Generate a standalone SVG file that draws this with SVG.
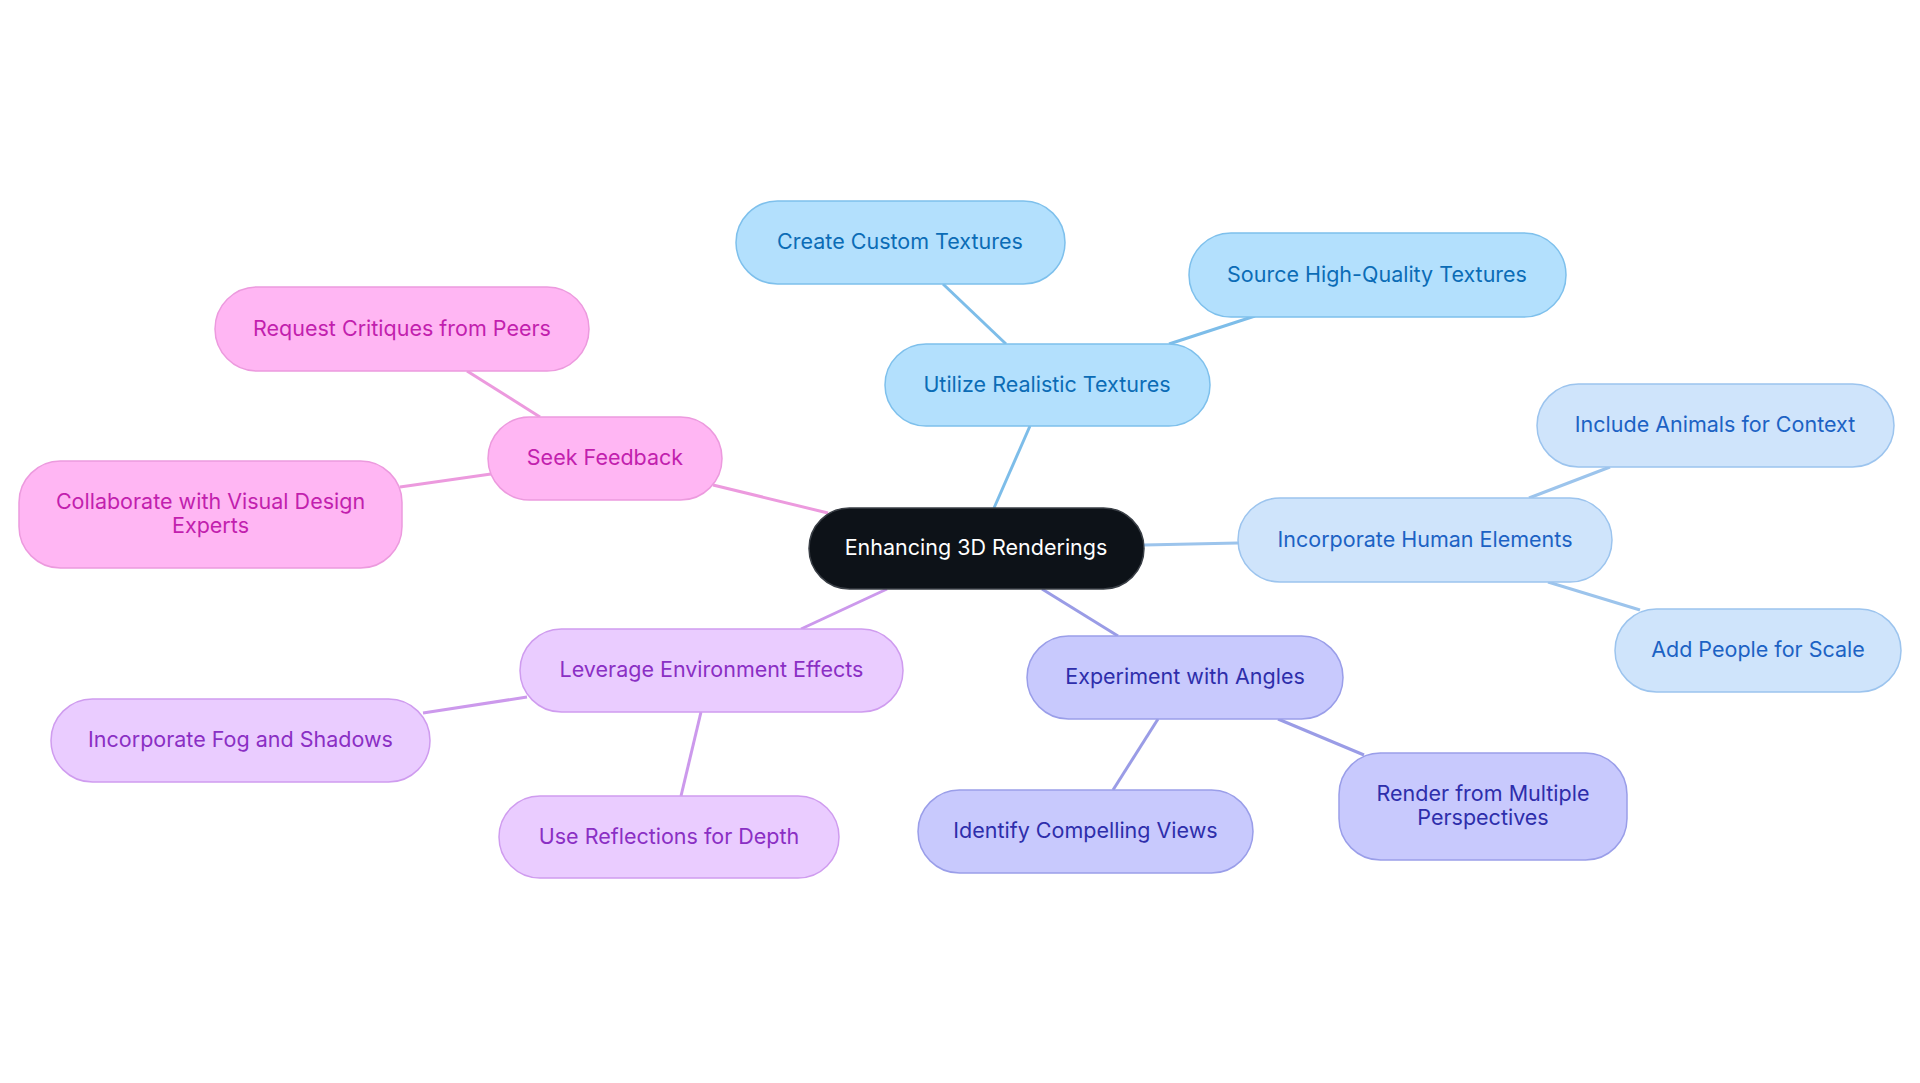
<svg xmlns="http://www.w3.org/2000/svg" width="1920" height="1083" viewBox="0 0 1920 1083">
<style>
text{font-family:Inter,"Noto Sans","Liberation Sans",sans-serif;font-size:21.5px;text-anchor:middle;dominant-baseline:central}
.c rect{fill:#0d1218;stroke:#3a3f46;stroke-width:1.5}
.c text{fill:#ffffff}
.b rect{fill:#b3e0fd;stroke:#7ec0ec;stroke-width:1.5}
.b text{fill:#0b6cb6}
.h rect{fill:#cfe4fb;stroke:#9cc4ee;stroke-width:1.5}
.h text{fill:#1c62c4}
.a rect{fill:#c8c9fd;stroke:#9a9ee9;stroke-width:1.5}
.a text{fill:#2e2eab}
.e rect{fill:#eaccff;stroke:#cf9cef;stroke-width:1.5}
.e text{fill:#8a2fc4}
.p rect{fill:#ffb6f3;stroke:#ec9ade;stroke-width:1.5}
.p text{fill:#c21fae}
#connectors line{stroke-width:3;fill:none}
</style>
<rect width="1920" height="1083" fill="#ffffff"/>
<g id="connectors">
<line x1="994" y1="508" x2="1030" y2="426" stroke="#7dbde9"/>
<line x1="1006" y1="344" x2="943" y2="284" stroke="#7dbde9"/>
<line x1="1169" y1="344" x2="1255" y2="316" stroke="#7dbde9"/>
<line x1="1144" y1="545" x2="1238" y2="543" stroke="#9cc4ec"/>
<line x1="1529" y1="498" x2="1610" y2="467" stroke="#9cc4ec"/>
<line x1="1548" y1="582" x2="1640" y2="610" stroke="#9cc4ec"/>
<line x1="1042" y1="589" x2="1118" y2="636" stroke="#9a9ce6"/>
<line x1="1158" y1="719" x2="1113" y2="790" stroke="#9a9ce6"/>
<line x1="1278" y1="719" x2="1364" y2="755" stroke="#9a9ce6"/>
<line x1="887" y1="589" x2="801" y2="629" stroke="#cc99ec"/>
<line x1="527" y1="697" x2="423" y2="713" stroke="#cc99ec"/>
<line x1="701" y1="712" x2="681" y2="796" stroke="#cc99ec"/>
<line x1="828" y1="513" x2="713" y2="485" stroke="#ec9ade"/>
<line x1="540" y1="417" x2="467" y2="371" stroke="#ec9ade"/>
<line x1="491" y1="474" x2="400" y2="487" stroke="#ec9ade"/>
</g>
<g id="n-center" class="c"><rect x="809" y="508" width="335" height="81" rx="40.5"/><text x="976" y="547">Enhancing 3D Renderings</text></g>
<g id="n-utilize" class="b"><rect x="885" y="344" width="325" height="82" rx="41"/><text x="1047" y="383.5">Utilize Realistic Textures</text></g>
<g id="n-create" class="b"><rect x="736" y="201" width="329" height="83" rx="41.5"/><text x="900" y="241">Create Custom Textures</text></g>
<g id="n-source" class="b"><rect x="1189" y="233" width="377" height="84" rx="42"/><text x="1377" y="273.5">Source High-Quality Textures</text></g>
<g id="n-human" class="h"><rect x="1238" y="498" width="374" height="84" rx="42"/><text x="1425" y="538.5">Incorporate Human Elements</text></g>
<g id="n-animals" class="h"><rect x="1537" y="384" width="357" height="83" rx="41.5"/><text x="1715" y="424">Include Animals for Context</text></g>
<g id="n-people" class="h"><rect x="1615" y="609" width="286" height="83" rx="41.5"/><text x="1758" y="649">Add People for Scale</text></g>
<g id="n-angles" class="a"><rect x="1027" y="636" width="316" height="83" rx="41.5"/><text x="1185" y="676">Experiment with Angles</text></g>
<g id="n-identify" class="a"><rect x="918" y="790" width="335" height="83" rx="41.5"/><text x="1085.5" y="830">Identify Compelling Views</text></g>
<g id="n-render" class="a"><rect x="1339" y="753" width="288" height="107" rx="41.5"/><text x="1483" y="792.5">Render from Multiple</text><text x="1483" y="816.5">Perspectives</text></g>
<g id="n-leverage" class="e"><rect x="520" y="629" width="383" height="83" rx="41.5"/><text x="711.5" y="669">Leverage Environment Effects</text></g>
<g id="n-fog" class="e"><rect x="51" y="699" width="379" height="83" rx="41.5"/><text x="240.5" y="739">Incorporate Fog and Shadows</text></g>
<g id="n-reflect" class="e"><rect x="499" y="796" width="340" height="82" rx="41"/><text x="669" y="835.5">Use Reflections for Depth</text></g>
<g id="n-seek" class="p"><rect x="488" y="417" width="234" height="83" rx="41.5"/><text x="605" y="457">Seek Feedback</text></g>
<g id="n-request" class="p"><rect x="215" y="287" width="374" height="84" rx="42"/><text x="402" y="327.5">Request Critiques from Peers</text></g>
<g id="n-collab" class="p"><rect x="19" y="461" width="383" height="107" rx="41.5"/><text x="210.5" y="500.5">Collaborate with Visual Design</text><text x="210.5" y="524.5">Experts</text></g>
</svg>
